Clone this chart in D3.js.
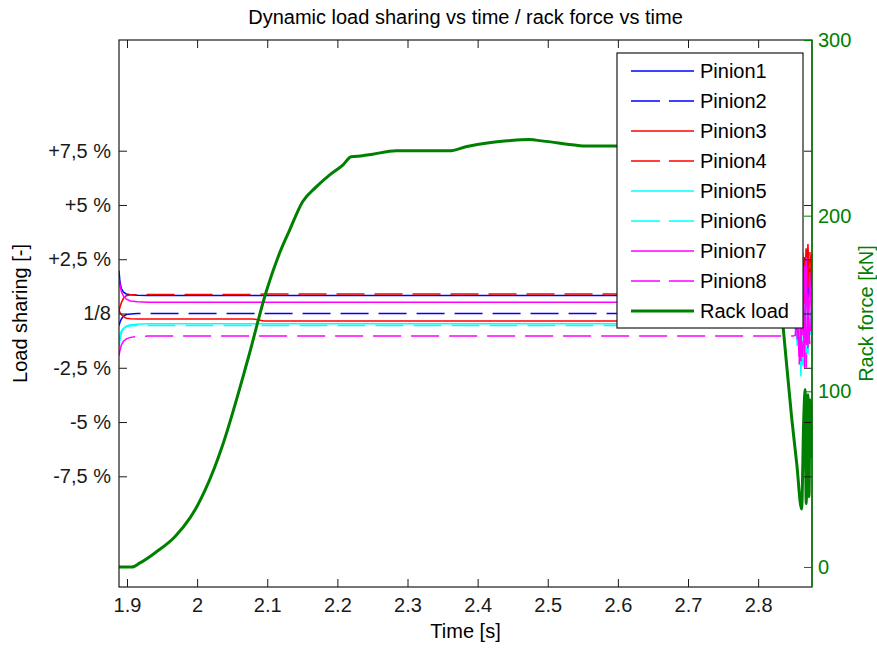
<!DOCTYPE html>
<html>
<head>
<meta charset="utf-8">
<script src="https://cdn.jsdelivr.net/npm/d3@7"></script>
<style>
  body { margin: 0; background: #fff; }
  svg { display: block; font-family: "Liberation Sans", Arial, sans-serif; }
</style>
</head>
<body>
<svg id="chart" width="877" height="648"></svg>
<script>
// time samples shared by the eight pinion series [s]
const pinionTime = [1.8886, 1.8900, 1.8920, 1.8950, 1.8990, 1.9050, 1.9150, 1.9300, 2.0800, 2.0950,
  2.8500, 2.8530, 2.8560, 2.8585, 2.8610, 2.8635, 2.8660, 2.8685, 2.8710, 2.8735, 2.8768];

// load sharing deviation from 1/8 [%]
const pinion1 = [1.98, 1.45, 1.15, 0.98, 0.90, 0.86, 0.84, 0.83, 0.83, 0.83,
  0.83, 0.9, 1.4, 0.5, 1.8, 0.2, 2.3, 2.5, 0.6, 2.1, 1.2];
const pinion2 = [-0.55, -0.40, -0.25, -0.12, -0.05, -0.02, 0.0, 0.0, 0.0, 0.0,
  0.0, 0.1, -0.6, 0.8, -1.0, 1.3, -0.4, 2.4, -0.8, 1.6, 0.3];
const pinion3 = [0.14, 0.05, -0.05, -0.15, -0.22, -0.24, -0.25, -0.25, -0.25, -0.35,
  -0.35, -0.2, 0.6, -0.9, 1.5, -0.5, 2.6, 0.9, 3.2, 1.0, 2.8];
const pinion4 = [0.10, 0.30, 0.50, 0.70, 0.82, 0.86, 0.87, 0.87, 0.87, 0.90,
  0.90, 1.0, 0.3, 1.9, 0.1, 2.8, 0.5, 3.2, 1.2, 2.9, 1.6];
const pinion5 = [-1.57, -1.20, -0.90, -0.70, -0.58, -0.52, -0.49, -0.475, -0.475, -0.475,
  -0.475, -0.6, -1.5, -0.2, -2.9, 0.4, -1.8, -0.6, -1.9, 0.2, -0.9];
const pinion6 = [-1.25, -1.00, -0.80, -0.68, -0.60, -0.57, -0.55, -0.55, -0.55, -0.55,
  -0.55, -0.7, -0.3, -1.6, 0.2, -2.4, -0.4, -1.85, 0.5, -1.2, -0.3];
const pinion7 = [1.60, 1.30, 1.00, 0.80, 0.66, 0.58, 0.54, 0.52, 0.52, 0.52,
  0.52, 0.4, -1.2, 1.4, -2.2, 2.0, -2.5, 2.6, -1.6, 1.9, -0.8];
const pinion8 = [-1.94, -1.70, -1.45, -1.28, -1.17, -1.10, -1.06, -1.04, -1.04, -1.04,
  -1.04, -1.0, 0.8, -2.4, 1.6, -2.0, 2.2, -2.5, 0.9, -1.4, 0.4];

// rack load [kN]
const rackTime = [1.8886, 1.9067, 1.9185, 1.9398, 1.9683, 1.9896, 2.0000, 2.0110, 2.0252, 2.0347,
  2.0725, 2.0987, 2.1176, 2.1319, 2.1504, 2.1698, 2.1887, 2.2077, 2.2196, 2.2357,
  2.2504, 2.2836, 2.3595, 2.3832, 2.4164, 2.4424, 2.4733, 2.4828, 2.5041, 2.5277,
  2.5539, 2.5942, 2.6440, 2.7150, 2.7860, 2.8000, 2.8147, 2.8260, 2.8360, 2.8478,
  2.8550, 2.8620, 2.8650, 2.8670, 2.8685, 2.8710, 2.8725, 2.8740, 2.8768];
const rackForce = [0, 0, 2.3, 8, 17.2, 27.8, 34.6, 43.4, 56.9, 67.4,
  118.4, 157, 178.7, 191.8, 207.9, 216.4, 223.1, 228.8, 233.5, 234.1,
  235, 236.9, 236.9, 239.2, 241.5, 242.6, 243.4, 243, 242, 240.7,
  239.6, 239.6, 238.5, 237.5, 235, 232, 222, 175, 135, 85,
  59, 33, 84, 101, 36, 98, 40, 95, 62];

const timeTicks = [1.9, 2.0, 2.1, 2.2, 2.3, 2.4, 2.5, 2.6, 2.7, 2.8];
const timeTickLabels = ["1.9", "2", "2.1", "2.2", "2.3", "2.4", "2.5", "2.6", "2.7", "2.8"];
const shareTicks = [-7.5, -5, -2.5, 0, 2.5, 5, 7.5];
const shareTickLabels = ["-7,5 %", "-5 %", "-2,5 %", "1/8", "+2,5 %", "+5 %", "+7,5 %"];
const forceTicks = [0, 100, 200, 300];

const series = [
  { name: "Pinion1", values: pinion1, color: "#0000ff", dash: null },
  { name: "Pinion2", values: pinion2, color: "#0000ff", dash: "28,10" },
  { name: "Pinion3", values: pinion3, color: "#ff0000", dash: null },
  { name: "Pinion4", values: pinion4, color: "#ff0000", dash: "28,10" },
  { name: "Pinion5", values: pinion5, color: "#00ffff", dash: null },
  { name: "Pinion6", values: pinion6, color: "#00ffff", dash: "28,10" },
  { name: "Pinion7", values: pinion7, color: "#ff00ff", dash: null },
  { name: "Pinion8", values: pinion8, color: "#ff00ff", dash: "28,10" }
];

const green = "#008000";
const axisColor = "#1a1a1a";
const svg = d3.select("#chart");
const margin = { top: 40, right: 65, bottom: 61, left: 119 };
const width = 877, height = 648;
const plotLeft = margin.left, plotRight = width - margin.right;
const plotTop = margin.top, plotBottom = height - margin.bottom;

const x = d3.scaleLinear().domain([1.8886, 2.8768]).range([plotLeft, plotRight]);
const yShare = d3.scaleLinear().domain([-12.6, 12.6]).range([plotBottom, plotTop]);
const yForce = d3.scaleLinear().domain([-11.4, 300]).range([plotBottom, plotTop]);

svg.append("defs").append("clipPath").attr("id", "plot-clip")
  .append("rect").attr("x", plotLeft).attr("y", plotTop)
  .attr("width", plotRight - plotLeft).attr("height", plotBottom - plotTop);

const plot = svg.append("g").attr("clip-path", "url(#plot-clip)");

const pinionLine = d3.line()
  .x((d, i) => x(pinionTime[i]))
  .y((d) => yShare(d));

series.forEach((s) => {
  plot.append("path")
    .attr("d", pinionLine(s.values))
    .attr("fill", "none")
    .attr("stroke", s.color)
    .attr("stroke-width", 1.5)
    .attr("stroke-dasharray", s.dash);
});

// smooth the sampled rack curve between the read-off points
const rackLine = d3.line()
  .x((d, i) => x(rackTime[i]))
  .y((d) => yForce(d))
  .curve(d3.curveMonotoneX);

plot.append("path")
  .attr("d", rackLine(rackForce))
  .attr("fill", "none")
  .attr("stroke", green)
  .attr("stroke-width", 3)
  .attr("stroke-linejoin", "round");

function styleAxis(g, color) {
  g.select(".domain").remove();
  g.selectAll(".tick line").attr("stroke", color);
  g.selectAll(".tick text")
    .attr("fill", color)
    .attr("font-size", 20)
    .attr("font-family", "\"Liberation Sans\", Arial, sans-serif");
}

// bottom / top time axes
svg.append("g")
  .attr("transform", `translate(0,${plotBottom})`)
  .call(d3.axisBottom(x).tickValues(timeTicks).tickSize(-8).tickPadding(11)
    .tickFormat((d, i) => timeTickLabels[i]))
  .call((g) => styleAxis(g, axisColor));

svg.append("g")
  .attr("transform", `translate(0,${plotTop})`)
  .call(d3.axisTop(x).tickValues(timeTicks).tickSize(-8).tickFormat(""))
  .call((g) => styleAxis(g, axisColor));

// left load sharing axis and its mirror on the right
svg.append("g")
  .attr("transform", `translate(${plotLeft},0)`)
  .call(d3.axisLeft(yShare).tickValues(shareTicks).tickSize(-8).tickPadding(8)
    .tickFormat((d, i) => shareTickLabels[i]))
  .call((g) => styleAxis(g, axisColor));

svg.append("g")
  .attr("transform", `translate(${plotRight},0)`)
  .call(d3.axisRight(yShare).tickValues(shareTicks).tickSize(-8).tickFormat(""))
  .call((g) => styleAxis(g, axisColor));

// box
svg.append("rect")
  .attr("x", plotLeft).attr("y", plotTop)
  .attr("width", plotRight - plotLeft).attr("height", plotBottom - plotTop)
  .attr("fill", "none").attr("stroke", axisColor).attr("stroke-width", 1.2);

// right rack force axis
svg.append("g")
  .attr("transform", `translate(${plotRight},0)`)
  .call(d3.axisRight(yForce).tickValues(forceTicks).tickSize(-8).tickPadding(6))
  .call((g) => styleAxis(g, green));

svg.append("line")
  .attr("x1", plotRight).attr("x2", plotRight).attr("y1", plotTop).attr("y2", plotBottom)
  .attr("stroke", green).attr("stroke-width", 1.4);

// titles
svg.append("text")
  .attr("x", (plotLeft + plotRight) / 2).attr("y", 24)
  .attr("text-anchor", "middle").attr("font-size", 20).attr("fill", "#000")
  .text("Dynamic load sharing vs time / rack force vs time");

svg.append("text")
  .attr("x", (plotLeft + plotRight) / 2).attr("y", 638)
  .attr("text-anchor", "middle").attr("font-size", 20).attr("fill", "#000")
  .text("Time [s]");

svg.append("text")
  .attr("transform", `translate(27,${(plotTop + plotBottom) / 2}) rotate(-90)`)
  .attr("text-anchor", "middle").attr("font-size", 20).attr("fill", "#000")
  .text("Load sharing [-]");

svg.append("text")
  .attr("transform", `translate(873,${(plotTop + plotBottom) / 2}) rotate(-90)`)
  .attr("text-anchor", "middle").attr("font-size", 20).attr("fill", green)
  .text("Rack force [kN]");

// legend
const legendItems = series.map((s) => ({ name: s.name, color: s.color, dash: s.dash, w: 1.5 }))
  .concat([{ name: "Rack load", color: green, dash: null, w: 3 }]);

const legend = svg.append("g").attr("transform", "translate(617,53)");
legend.append("rect")
  .attr("width", 186).attr("height", 275)
  .attr("fill", "#fff").attr("stroke", axisColor).attr("stroke-width", 1.2);

const rows = legend.selectAll("g.row")
  .data(legendItems)
  .join("g")
  .attr("class", "row")
  .attr("transform", (d, i) => `translate(0,${18 + i * 30})`);

rows.append("line")
  .attr("x1", 14).attr("x2", 77)
  .attr("stroke", (d) => d.color)
  .attr("stroke-width", (d) => d.w)
  .attr("stroke-dasharray", (d) => d.dash ? "29,9" : null);

rows.append("text")
  .attr("x", 83).attr("y", 7)
  .attr("font-size", 20).attr("fill", "#000")
  .text((d) => d.name);
</script>
</body>
</html>
